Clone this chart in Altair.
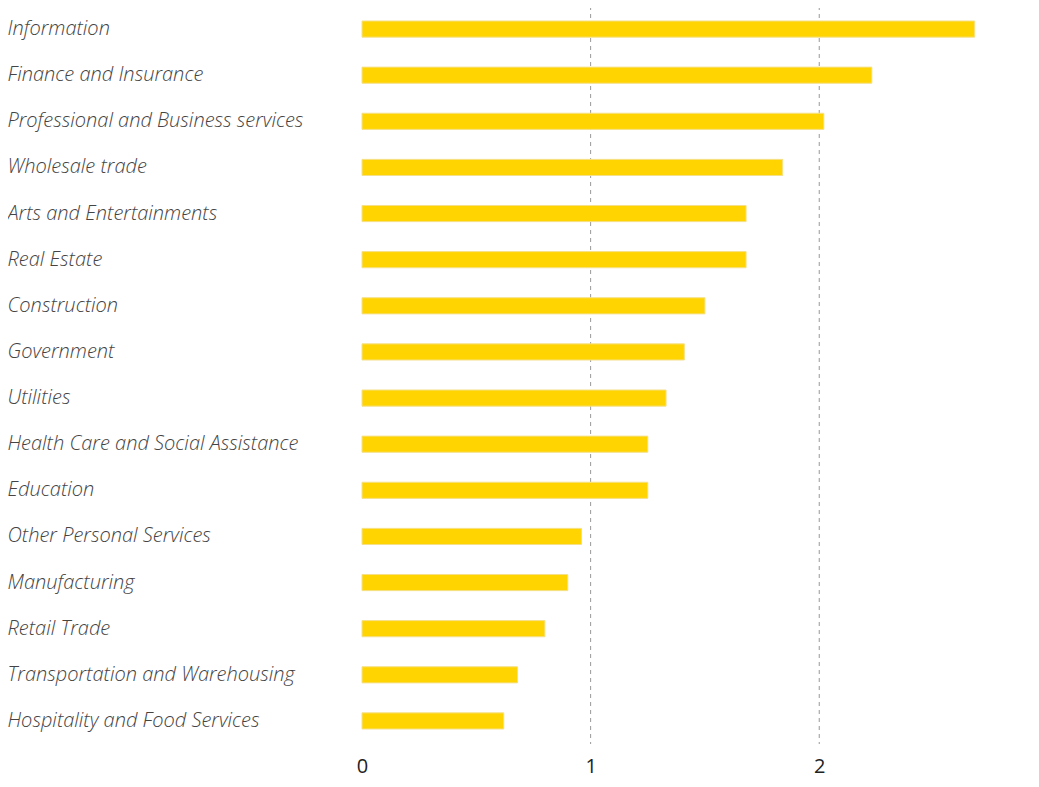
import altair as alt
import pandas as pd

industries = [
    "Information", "Finance and Insurance", "Professional and Business services",
    "Wholesale trade", "Arts and Entertainments", "Real Estate", "Construction",
    "Government", "Utilities", "Health Care and Social Assistance", "Education",
    "Other Personal Services", "Manufacturing", "Retail Trade",
    "Transportation and Warehousing", "Hospitality and Food Services",
]
values = [2.68, 2.23, 2.02, 1.84, 1.68, 1.68, 1.50, 1.41, 1.33, 1.25, 1.25,
          0.96, 0.90, 0.80, 0.68, 0.62]
grid_values = [1, 2]
tick_values = [0, 1, 2]

df = pd.DataFrame({"industry": industries, "value": values})
grid_df = pd.DataFrame({"g": grid_values})

x_scale = alt.Scale(domain=[0, 2.9], nice=False, zero=True)

bars = alt.Chart(df).mark_bar(
    color="#FFD400", stroke="#F5E08A", strokeWidth=1
).encode(
    x=alt.X("value:Q", scale=x_scale, axis=alt.Axis(
        values=tick_values, grid=False, domain=False, ticks=False, title=None,
        labelFontSize=20, labelColor="#222222", labelFont="Open Sans",
        labelPadding=12, labelFlush=False, format="d")),
    y=alt.Y("industry:N", sort=industries,
            scale=alt.Scale(paddingInner=0.65, paddingOuter=0.325),
            axis=alt.Axis(title=None, domain=False, ticks=False, tickSize=0,
                          labelAlign="left", labelPadding=355, labelLimit=360,
                          labelFontSize=20, labelFont="Open Sans", labelFontStyle="italic",
                          labelFontWeight=300, labelColor="#444444")),
)

grid = alt.Chart(grid_df).mark_rule(
    color="#999999", strokeDash=[4, 4], strokeWidth=1
).encode(x=alt.X("g:Q", scale=x_scale))

chart = alt.layer(grid, bars).properties(
    width=663, height=738,
    padding={"left": -1, "top": -3, "right": 5, "bottom": 4},
).configure_view(stroke=None)

chart.save("out.html", embed_options={"renderer": "svg", "actions": False})
